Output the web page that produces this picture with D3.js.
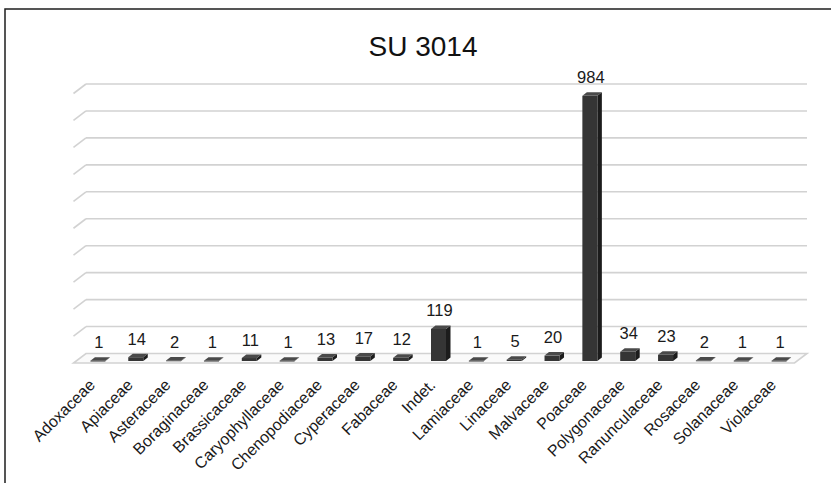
<!DOCTYPE html>
<html>
<head>
<meta charset="utf-8">
<script src="https://cdn.jsdelivr.net/npm/d3@7"></script>
<style>
  html, body { margin: 0; padding: 0; background: #fff; }
  svg { display: block; font-family: "Liberation Sans", Arial, sans-serif; }
</style>
</head>
<body>
<svg id="chart" width="831" height="483"></svg>
<script>
// Seed counts per plant family, SU 3014
const chartTitle = "SU 3014";
const families = [
  "Adoxaceae", "Apiaceae", "Asteraceae", "Boraginaceae", "Brassicaceae",
  "Caryophyllaceae", "Chenopodiaceae", "Cyperaceae", "Fabaceae", "Indet.",
  "Lamiaceae", "Linaceae", "Malvaceae", "Poaceae", "Polygonaceae",
  "Ranunculaceae", "Rosaceae", "Solanaceae", "Violaceae"
];
const counts = [1, 14, 2, 1, 11, 1, 13, 17, 12, 119, 1, 5, 20, 984, 34, 23, 2, 1, 1];
const gridTicks = [0, 100, 200, 300, 400, 500, 600, 700, 800, 900, 1000];

const svg = d3.select("#chart");

// frame
svg.append("rect")
  .attr("x", 5).attr("y", 9)
  .attr("width", 840).attr("height", 490)
  .attr("fill", "#fff")
  .attr("stroke", "#1e1e1e")
  .attr("stroke-width", 1.5);

// title
svg.append("text")
  .attr("x", 423).attr("y", 56)
  .attr("text-anchor", "middle")
  .attr("font-size", 28)
  .attr("fill", "#111")
  .text(chartTitle);

const x = d3.scaleBand().domain(families).range([79, 798]).paddingInner(0).paddingOuter(0);
const y = d3.scaleLinear().domain([0, 1000]).range([353.5, 84]);

// wall/floor depth offset (back plane relative to front plane)
const wallDx = 12.5, wallDy = -9.5;
const backLeft = 86, backRight = 807;

// gridlines on the back wall plus side-wall diagonals
const grid = svg.append("g").attr("stroke", "#d2d2d2").attr("stroke-width", 1.6).attr("fill", "none");
gridTicks.filter(t => t > 0).forEach(t => {
  grid.append("line")
    .attr("x1", backLeft).attr("x2", backRight)
    .attr("y1", y(t)).attr("y2", y(t));
  grid.append("line")
    .attr("x1", backLeft).attr("y1", y(t))
    .attr("x2", backLeft - wallDx).attr("y2", y(t) - wallDy);
});

// floor
const y0 = y(0);
grid.append("path")
  .attr("d", `M${backLeft},${y0} L${backRight},${y0} L${backRight - wallDx},${y0 - wallDy} L${backLeft - wallDx},${y0 - wallDy} Z`)
  .attr("fill", "#fafafa");

// 3D bars
const barW = 15, depthDx = 4.5, depthDy = -3.5;
const frontBase = y0 + 7.5;
const bars = svg.append("g");
families.forEach((f, i) => {
  const v = counts[i];
  const cx = x(f) + x.bandwidth() / 2;
  const x0 = cx - barW / 2, x1 = cx + barW / 2;
  const h = y0 - y(v);
  const yt = frontBase - h, yb = frontBase;
  // side face
  bars.append("path")
    .attr("d", `M${x1},${yt} L${x1 + depthDx},${yt + depthDy} L${x1 + depthDx},${yb + depthDy} L${x1},${yb} Z`)
    .attr("fill", "#1c1c1c");
  // front face
  bars.append("rect")
    .attr("x", x0).attr("y", yt)
    .attr("width", barW).attr("height", Math.max(h, 0.8))
    .attr("fill", "#353535");
  // top face
  bars.append("path")
    .attr("d", `M${x0},${yt} L${x1},${yt} L${x1 + depthDx},${yt + depthDy} L${x0 + depthDx},${yt + depthDy} Z`)
    .attr("fill", "#4a4a4a");
  // value label
  svg.append("text")
    .attr("x", cx + 1).attr("y", yt - 12.5)
    .attr("text-anchor", "middle")
    .attr("font-size", 16.5)
    .attr("fill", "#1a1a1a")
    .text(v);
});

// category labels, rotated
families.forEach(f => {
  const cx = x(f) + x.bandwidth() / 2;
  svg.append("text")
    .attr("transform", `translate(${cx - 2},${386}) rotate(-45)`)
    .attr("text-anchor", "end")
    .attr("font-size", 16)
    .attr("fill", "#1a1a1a")
    .text(f);
});
</script>
</body>
</html>
